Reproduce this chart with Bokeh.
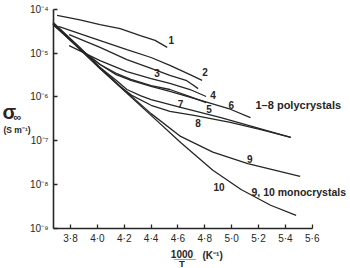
from bokeh.plotting import figure
from bokeh.models import Range1d, FixedTicker, Label
from bokeh.embed import file_html
from bokeh.resources import INLINE

# ---- data: x = 1000/T (K^-1), s = log10(sigma_inf / S m^-1) ----
x1 = [3.70, 3.87, 4.02, 4.17, 4.32, 4.43, 4.52]
s1 = [-4.14, -4.24, -4.35, -4.44, -4.60, -4.71, -4.87]

x2 = [3.71, 3.95, 4.22, 4.40, 4.54, 4.69, 4.78]
s2 = [-4.39, -4.64, -4.92, -5.10, -5.28, -5.49, -5.62]

x3 = [3.79, 4.02, 4.22, 4.40, 4.54, 4.66, 4.71, 4.75]
s3 = [-4.58, -4.87, -5.15, -5.35, -5.51, -5.62, -5.72, -5.81]

x4 = [3.79, 4.02, 4.22, 4.40, 4.54, 4.69, 4.81]
s4 = [-4.83, -5.17, -5.42, -5.58, -5.69, -5.83, -5.99]

x5 = [3.67, 3.87, 4.02, 4.14, 4.25, 4.40, 4.54, 4.69, 4.81]
s5 = [-4.35, -4.90, -5.26, -5.46, -5.60, -5.74, -5.83, -5.99, -6.13]

x6 = [3.67, 3.87, 4.02, 4.14, 4.25, 4.40, 4.54, 4.77, 4.99, 5.14]
s6 = [-4.35, -4.90, -5.26, -5.49, -5.62, -5.76, -5.87, -6.08, -6.28, -6.47]

x7 = [3.67, 3.87, 4.02, 4.14, 4.22, 4.32, 4.40, 4.62, 4.92, 5.21, 5.44]
s7 = [-4.33, -4.90, -5.33, -5.62, -5.83, -5.97, -6.06, -6.24, -6.47, -6.72, -6.92]

x8 = [3.67, 3.87, 4.02, 4.17, 4.26, 4.40, 4.54, 4.72, 4.99, 5.21, 5.44]
s8 = [-4.33, -4.92, -5.35, -5.76, -5.97, -6.19, -6.33, -6.42, -6.58, -6.74, -6.92]

x9 = [3.67, 3.87, 4.02, 4.19, 4.40, 4.62, 4.86, 5.12, 5.51]
s9 = [-4.30, -4.87, -5.33, -5.81, -6.38, -6.90, -7.26, -7.52, -7.81]

x10 = [3.67, 3.87, 4.02, 4.19, 4.40, 4.62, 4.86, 5.07, 5.29, 5.48]
s10 = [-4.30, -4.90, -5.35, -5.83, -6.42, -7.04, -7.67, -8.11, -8.47, -8.70]

curve_names = ["1", "2", "3", "4", "5", "6", "7", "8", "9", "10"]

x_ticks = [3.8, 4.0, 4.2, 4.4, 4.6, 4.8, 5.0, 5.2, 5.4, 5.6]
x_tick_labels = ["3·8", "4·0", "4·2", "4·4", "4·6", "4·8", "5·0", "5·2", "5·4", "5·6"]
y_ticks = [-9, -8, -7, -6, -5, -4]
y_tick_labels = ["10⁻⁹", "10⁻⁸", "10⁻⁷", "10⁻⁶", "10⁻⁵", "10⁻⁴"]

group_labels = ["1–8  polycrystals", "9, 10  monocrystals"]

# ---- figure: frame spans the whole canvas, axes pinned inside it ----
INK = "#262626"
FONT = "Liberation Sans"
X0, Y_BOTTOM = 3.673, -9.0

p = figure(width=350, height=268, output_backend="svg", toolbar_location=None,
           x_range=Range1d(3.2788, 5.8849), y_range=Range1d(-9.9123, -3.80),
           min_border=0)
p.outline_line_color = None
p.xgrid.visible = False
p.ygrid.visible = False
p.background_fill_color = "white"
p.border_fill_color = "white"

xa = p.xaxis[0]
xa.fixed_location = Y_BOTTOM
xa.bounds = (X0, 5.6)
xa.ticker = FixedTicker(ticks=x_ticks)
xa.major_label_overrides = {t: l for t, l in zip(x_ticks, x_tick_labels)}
ya = p.yaxis[0]
ya.fixed_location = X0
ya.bounds = (-9, -4)
ya.ticker = FixedTicker(ticks=y_ticks)
ya.major_label_overrides = {t: l for t, l in zip(y_ticks, y_tick_labels)}
for ax in (xa, ya):
    ax.axis_line_color = INK
    ax.axis_line_width = 1.6
    ax.major_tick_line_color = INK
    ax.major_tick_line_width = 1.3
    ax.major_tick_in = 4
    ax.major_tick_out = 0
    ax.minor_tick_line_color = None
    ax.major_label_text_font = FONT
    ax.major_label_text_font_size = "10px"
    ax.major_label_text_color = INK
    ax.major_label_standoff = 5

xs = [x1, x2, x3, x4, x5, x6, x7, x8, x9, x10]
ss = [s1, s2, s3, s4, s5, s6, s7, s8, s9, s10]
for x, s in zip(xs, ss):
    p.line(x, s, line_color=INK, line_width=1.3)

# curve number labels: (curve index, point index, dx, dy) in screen px (dy down)
label_spots = [(0, -1, 4, -7), (1, -1, 3, -8), (2, 3, 6, 5), (3, -1, 7, -2),
               (4, -1, 3, 6), (5, 8, 1, -4), (6, 7, 0, -3), (7, 7, 4, 8),
               (8, 7, 2, -5), (9, 7, -22, -2)]
for ci, pi, dx, dy in label_spots:
    p.add_layout(Label(x=xs[ci][pi], y=ss[ci][pi], x_offset=dx, y_offset=-dy,
                       text=curve_names[ci], text_font=FONT, text_font_size="10px",
                       text_font_style="bold", text_color=INK,
                       text_align="center", text_baseline="middle"))

def px(xp, yp):
    return 3.8 + (xp - 70) / 134.3, -3.80 - yp / 43.846

def add_text(xp, yp, text, size, align="left", baseline="middle", style="bold"):
    x, y = px(xp, yp)
    p.add_layout(Label(x=x, y=y, text=text, text_font=FONT, text_font_size=size,
                       text_font_style=style, text_color=INK,
                       text_align=align, text_baseline=baseline))

add_text(255, 104.5, group_labels[0], "11px")
add_text(251, 191, group_labels[1], "10.5px")
add_text(2, 111, "σ", "20px")
add_text(13, 116.5, "∞", "11px")
add_text(3, 129, "(S m⁻¹)", "8.5px")
add_text(181.5, 254, "1̲0̲0̲0̲", "10px", align="center", baseline="alphabetic")
add_text(181.5, 263, "T", "9.5px", align="center")
add_text(202, 254.5, "(K⁻¹)", "10px")

open("out.html", "w").write(file_html(p, INLINE))
